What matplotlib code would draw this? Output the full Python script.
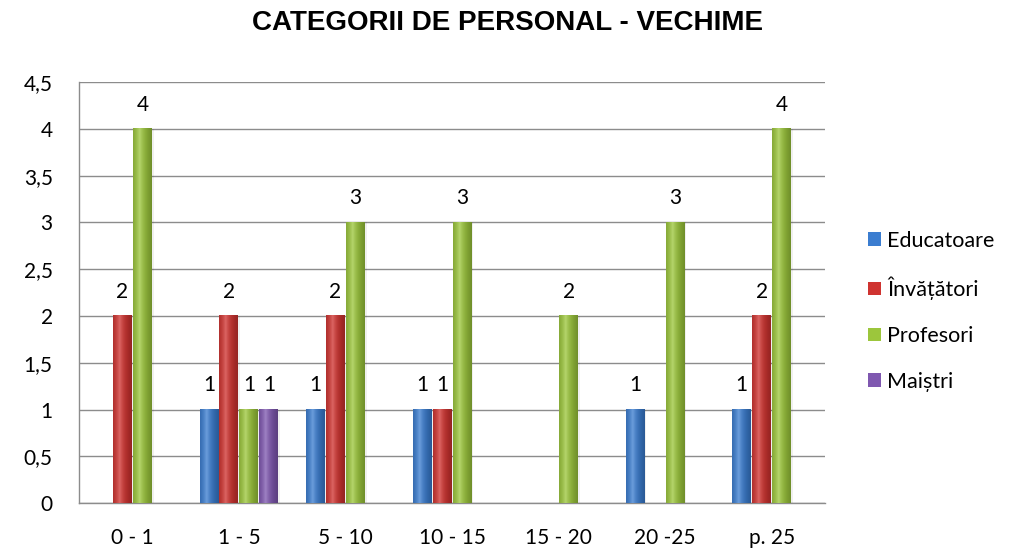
import numpy as np
import matplotlib
matplotlib.use('Agg')
import matplotlib.pyplot as plt
from matplotlib.colors import to_rgb
from matplotlib.patches import Patch
from matplotlib.ticker import FuncFormatter

categories = ['0 - 1', '1 - 5', '5 - 10', '10 - 15', '15 - 20', '20 -25', 'p. 25']
series = ['Educatoare', 'Învățători', 'Profesori', 'Maiștri']
educatoare = [0, 1, 1, 1, 0, 1, 1]
invatatori = [2, 2, 2, 1, 0, 0, 2]
profesori = [4, 1, 3, 3, 2, 3, 4]
maistri = [0, 1, 0, 0, 0, 0, 0]
colors = ['#3b7dd0', '#cf3330', '#9cc63c', '#7f58b0']

plt.rcParams['font.family'] = ['Lato', 'DejaVu Sans']

def shade(base, n=40):
    # cylinder-like horizontal gradient
    b = np.array(to_rgb(base))
    t = np.linspace(0, 1, n)
    light = np.clip(1 - np.abs(t - 0.35) / 0.65, 0, 1)
    out = []
    for l in light:
        c = b * (0.72 + 0.28 * l) + (1 - b) * 0.25 * l ** 3
        out.append(np.clip(c, 0, 1))
    return np.array(out)[None, :, :]

fig = plt.figure(figsize=[10.14, 5.51], dpi=100)
ax = fig.add_axes([0.078, 0.087, 0.7356, 0.764])

values = [educatoare, invatatori, profesori, maistri]
width = 0.1875
x = np.arange(len(categories))
for s in range(len(series)):
    xs = x - 1.5 * width + s * width
    grad = shade(colors[s])
    for i in range(len(categories)):
        v = values[s][i]
        if v == 0:
            continue
        x0 = xs[i] - width / 2 + 0.005
        x1 = xs[i] + width / 2 - 0.005
        # soft shadow
        ax.bar(xs[i] + 0.012, v, width=width, color='#000000', alpha=0.06, zorder=2, linewidth=0)
        ax.imshow(grad, extent=[x0, x1, 0, v], aspect='auto', zorder=3, interpolation='bilinear')
        ax.text(xs[i], v + 0.26, str(v), ha='center', va='center', fontsize=15, color='black')

ax.set_xlim(-0.5, len(categories) - 0.5)
ax.set_ylim(0, 4.5)
ax.set_yticks(np.arange(0, 4.51, 0.5))
ax.yaxis.set_major_formatter(FuncFormatter(lambda v, p: ('%g' % v).replace('.', ',')))
ax.set_xticks(x)
ax.set_xticklabels(categories)
ax.tick_params(axis='both', length=0, labelsize=15, colors='black')
ax.tick_params(axis='x', pad=18)
ax.tick_params(axis='y', pad=19)
ax.grid(axis='y', color='#8c8c8c', linewidth=1.0, zorder=0)
ax.set_axisbelow(True)
for sp in ['top', 'right']:
    ax.spines[sp].set_visible(False)
for sp in ['left', 'bottom']:
    ax.spines[sp].set_color('#8c8c8c')
    ax.spines[sp].set_linewidth(1.0)

handles = [Patch(facecolor=c, edgecolor='none') for c in colors]
fig.legend(handles, series, loc='center left', bbox_to_anchor=(0.837, 0.435),
           frameon=False, fontsize=15.5, handlelength=0.6, handleheight=0.6,
           handletextpad=0.3, labelspacing=1.2)

fig.text(0.5, 0.958, 'CATEGORII DE PERSONAL - VECHIME', ha='center', va='center',
         fontsize=20, fontweight='bold', family='Liberation Sans')

plt.savefig('out.png', dpi=100)
